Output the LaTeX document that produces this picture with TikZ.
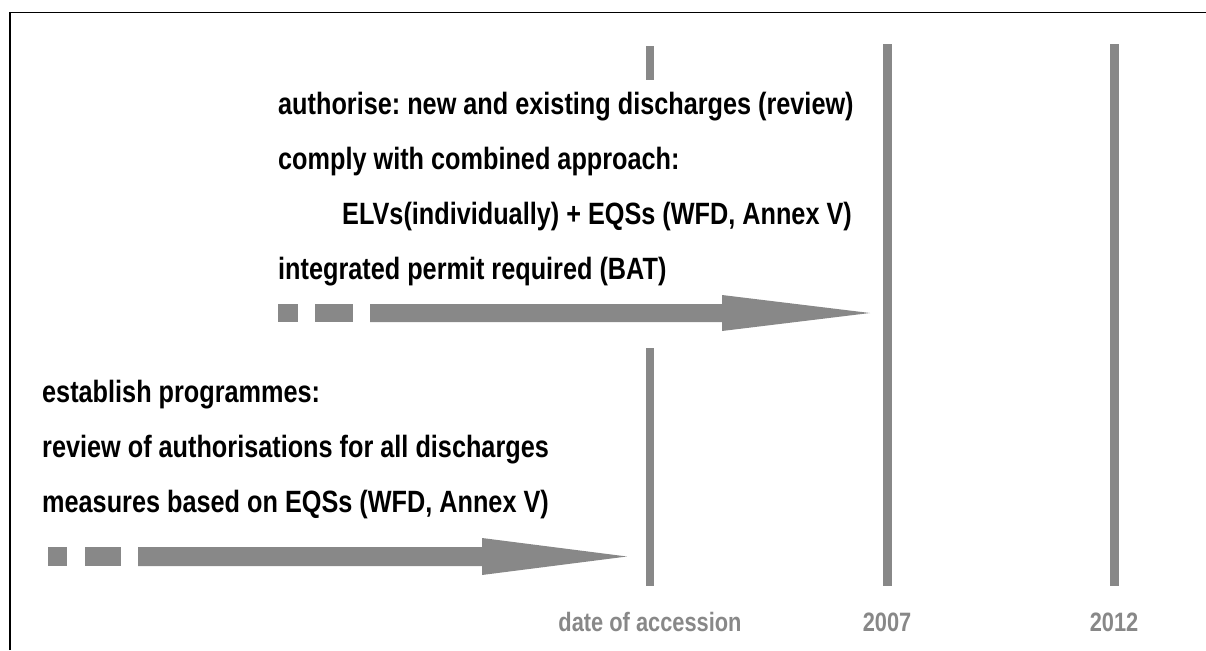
\documentclass[tikz,border=0pt]{standalone}
\usepackage{fontspec}
\setmainfont{Liberation Sans}[FakeStretch=0.82]
\usetikzlibrary{positioning}
\definecolor{bargray}{HTML}{888888}
\frenchspacing

\tikzset{
  linetext/.style={anchor=base west, inner sep=0pt, font=\bfseries\fontsize{30.8}{36}\selectfont},
  yearlabel/.style={anchor=base, inner sep=0pt, text=bargray, font=\bfseries\fontsize{26.6}{30}\selectfont},
  graybar/.style={fill=bargray}
}

\begin{document}
\begin{tikzpicture}[x=1pt,y=-1pt]
  \useasboundingbox (0,0) rectangle (1206,650);
  % frame
  \draw[line width=1.3pt] (10,650) -- (10,12.7) -- (1206,12.7);

  % time bars
  \fill[graybar] (645.7,46) rectangle (654.3,80);
  \fill[graybar] (645.7,348) rectangle (654.3,586);
  \fill[graybar] (882.5,44) rectangle (891.5,586);
  \fill[graybar] (1109.5,44) rectangle (1118.5,586);

  % upper block
  \node[linetext] (authorise) at (278,114) {authorise: new and existing discharges (review)};
  \node[linetext] (comply) at (278,169) {comply with combined approach:};
  \node[linetext] (elvs) at (342,224) {ELVs(individually) + EQSs (WFD, Annex V)};
  \node[linetext] (permit) at (278,279) {integrated permit required (BAT)};

  \fill[graybar] (278,304) rectangle (298,322);
  \fill[graybar] (315,304) rectangle (353,322);
  \fill[graybar] (370,304) -- (722,304) -- (722,295) -- (870,313) -- (722,331) -- (722,322) -- (370,322) -- cycle;

  % lower block
  \node[linetext] (establish) at (42,402) {establish programmes:};
  \node[linetext] (review) at (42,457) {review of authorisations for all discharges};
  \node[linetext] (measures) at (42,512) {measures based on EQSs (WFD, Annex V)};

  \fill[graybar] (48,547) rectangle (67,566);
  \fill[graybar] (85,547) rectangle (121,566);
  \fill[graybar] (138,547) -- (482,547) -- (482,538) -- (627,556.5) -- (482,575) -- (482,566) -- (138,566) -- cycle;

  % time labels
  \node[yearlabel] (accession) at (650,631) {date of accession};
  \node[yearlabel] (y2007) at (887,631) {2007};
  \node[yearlabel] (y2012) at (1114,631) {2012};
\end{tikzpicture}
\end{document}
